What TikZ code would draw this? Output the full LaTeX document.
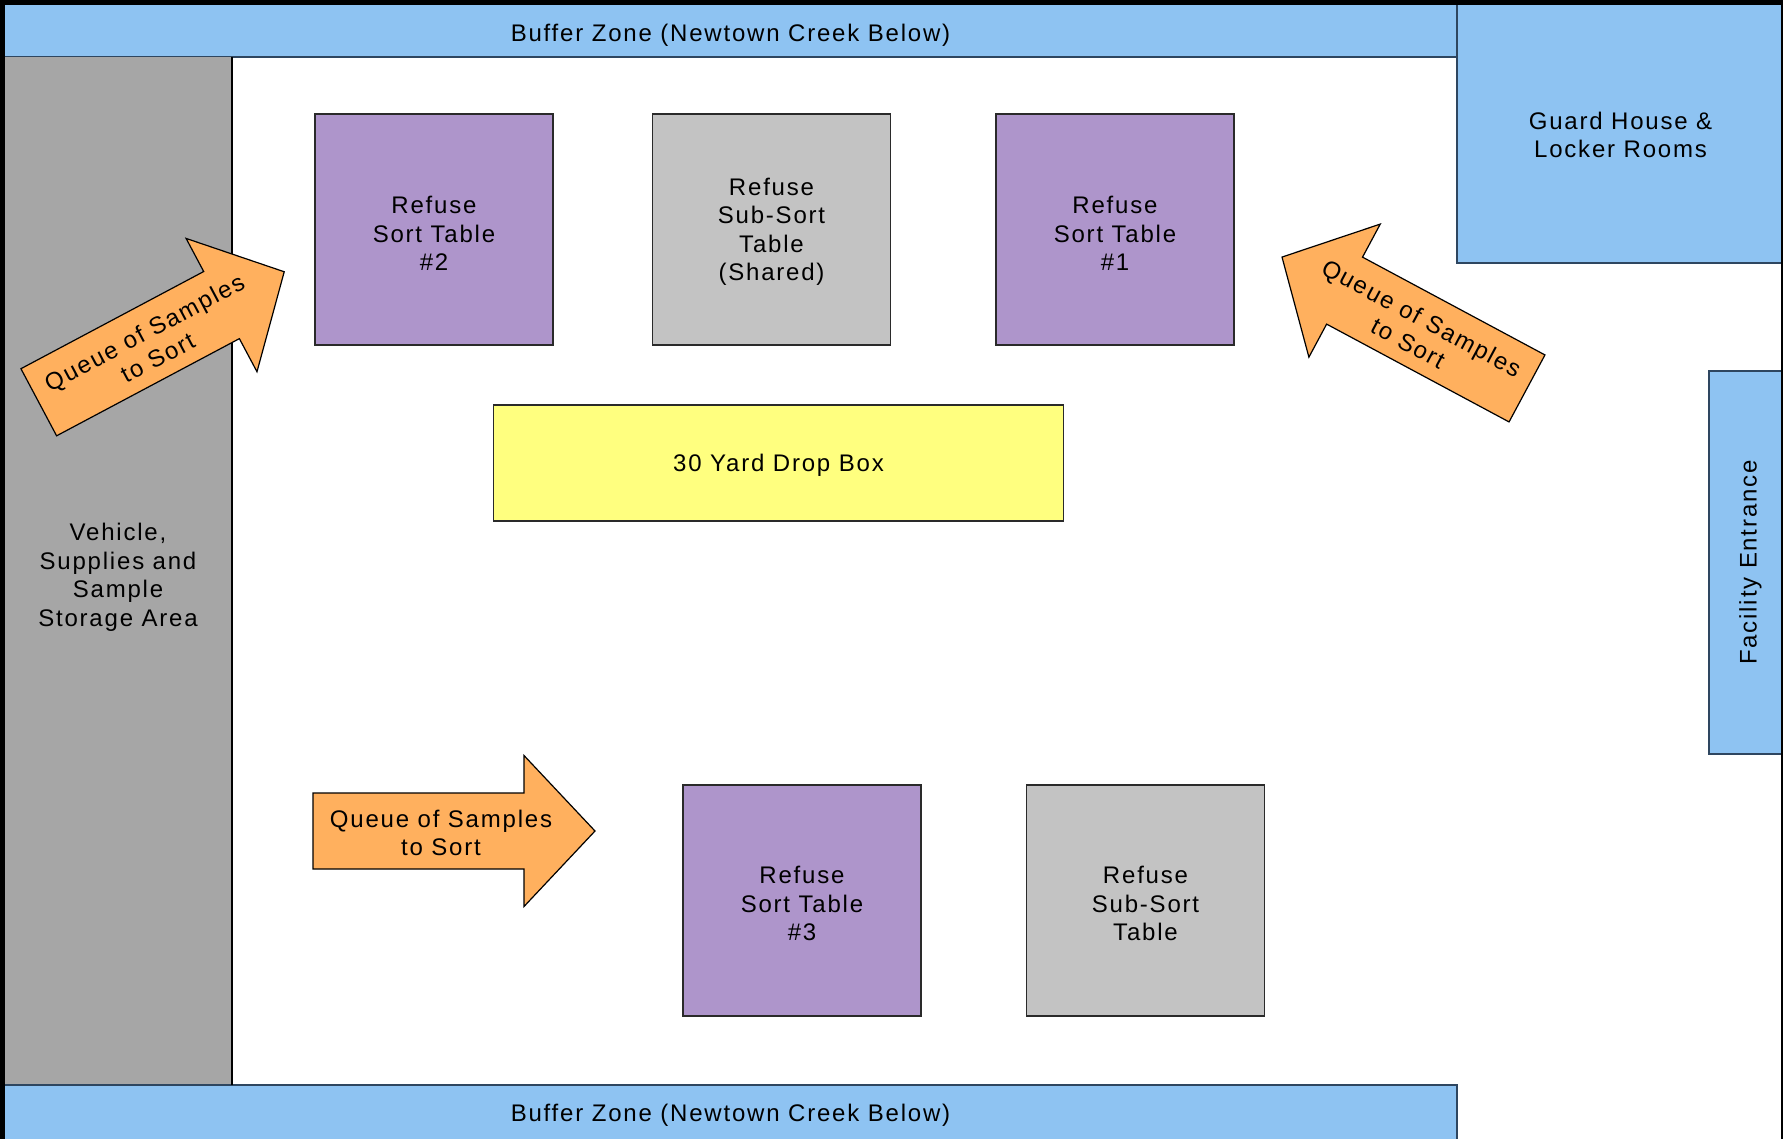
\documentclass[tikz,border=0pt]{standalone}
\usepackage{fontspec}
\setmainfont{Liberation Sans}[LetterSpace=7.5]
\definecolor{zoneblue}{HTML}{8EC3F2}
\definecolor{zoneline}{HTML}{2E4660}
\definecolor{storagegray}{HTML}{A6A6A6}
\definecolor{sortpurple}{HTML}{AE95CB}
\definecolor{subgray}{HTML}{C3C3C3}
\definecolor{dropyellow}{HTML}{FFFF7F}
\definecolor{queueorange}{HTML}{FFB05E}
\definecolor{benchline}{HTML}{2A2A2A}
% invisible strut that lowers a label block by giving its first line extra height
\newcommand\firstline[1]{\rule{0pt}{#1pt}}
\begin{document}
\begin{tikzpicture}[x=1pt,y=-1pt,
  every node/.style={font=\fontsize{24}{28.5}\selectfont, align=center, inner sep=0pt, outer sep=0pt},
  zone/.style={draw=zoneline, fill=zoneblue, line width=1.6pt},
  bench/.style={draw=benchline, line width=1.2pt, minimum width=238, minimum height=231},
  sorttable/.style={bench, fill=sortpurple},
  subtable/.style={bench, fill=subgray},
  qarrow/.style={draw=black, fill=queueorange, line width=1.2pt, line join=miter},
]
\useasboundingbox (0,0) rectangle (1783,1138);

% site zones
\node[zone, minimum width=1453, minimum height=53] (buffertop) at (730.5,30.5)
  {\firstline{26}Buffer Zone (Newtown Creek Below)};
\node[zone, minimum width=327, minimum height=259] (guard) at (1620.5,133.5)
  {\firstline{20}Guard House \&\\Locker Rooms};
\node[zone, minimum width=383, minimum height=76, rotate=90] (entrance) at (1747,562.5)
  {\firstline{24}Facility Entrance};
\node[fill=storagegray, minimum width=228, minimum height=1028] (storage) at (118,571)
  {\firstline{30}Vehicle,\\Supplies and\\Sample\\Storage Area};
\node[zone, minimum width=1453, minimum height=60] (bufferbottom) at (730.5,1115)
  {Buffer Zone (Newtown Creek Below)};
\draw[black, line width=2.5pt] (storage.north east) -- (storage.south east);

% outer site boundary
\draw[black, line width=4.5pt] (2.25,1145) -- (2.25,2.25) -- (1783.25,2.25) -- (1783.25,1145);

% queue arrows
\begin{scope}[shift={(161.5,337)}, rotate=28]
  \draw[qarrow] (-139,-38) -- (68,-38) -- (68,-75.5) -- (139,0) -- (68,75.5) -- (68,38) -- (-139,38) -- cycle;
  \node[rotate=28] (queueleft) at (-13,2) {Queue of Samples\\to Sort};
\end{scope}
\begin{scope}[shift={(1404.5,322.75)}, rotate=151.8]
  \draw[qarrow] (-139,-38) -- (68,-38) -- (68,-75.5) -- (139,0) -- (68,75.5) -- (68,38) -- (-139,38) -- cycle;
  \node[rotate=-28.2] (queueright) at (-13,-2) {Queue of Samples\\to Sort};
\end{scope}
\begin{scope}[shift={(454,831)}]
  \draw[qarrow] (-141,-38) -- (70,-38) -- (70,-75.5) -- (141,0) -- (70,75.5) -- (70,38) -- (-141,38) -- cycle;
  \node (queuebottom) at (-13,2) {Queue of Samples\\to Sort};
\end{scope}

% sorting stations
\node[sorttable] (sort2) at (434,229.5) {\firstline{25}Refuse\\Sort Table\\\#2};
\node[subtable] (subshared) at (771.5,229.5) {\firstline{22}Refuse\\Sub-Sort\\Table\\(Shared)};
\node[sorttable] (sort1) at (1115,229.5) {\firstline{25}Refuse\\Sort Table\\\#1};
\node[draw=benchline, line width=1.2pt, fill=dropyellow, minimum width=570, minimum height=116]
  (dropbox) at (778.5,463) {\firstline{22}30 Yard Drop Box};
\node[sorttable] (sort3) at (802,900.5) {\firstline{24}Refuse\\Sort Table\\\#3};
\node[subtable] (sub) at (1145.5,900.5) {\firstline{24}Refuse\\Sub-Sort\\Table};
\end{tikzpicture}
\end{document}
